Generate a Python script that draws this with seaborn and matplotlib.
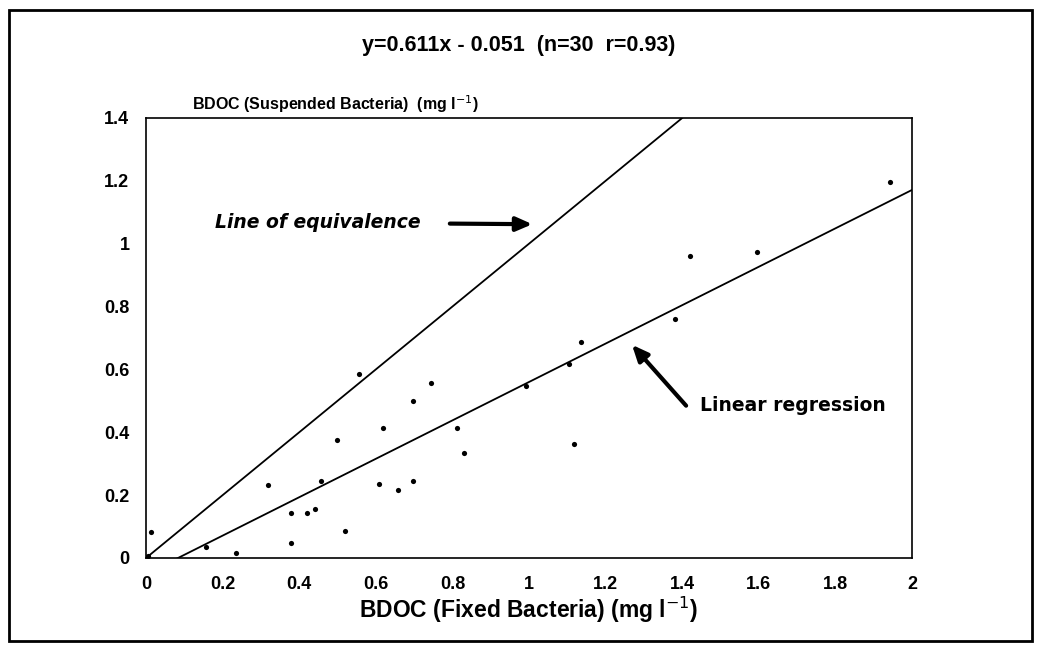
import numpy as np
import matplotlib.pyplot as plt
import seaborn as sns
from matplotlib.patches import Rectangle

# data
fixed_bdoc = [0.005, 0.012, 0.156, 0.236, 0.318, 0.379, 0.379, 0.419, 0.440, 0.458,
              0.499, 0.519, 0.556, 0.608, 0.618, 0.659, 0.696, 0.697, 0.744, 0.813,
              0.831, 0.992, 1.104, 1.117, 1.136, 1.382, 1.421, 1.595, 1.943]
susp_bdoc = [0.005, 0.084, 0.034, 0.017, 0.232, 0.144, 0.047, 0.144, 0.155, 0.244,
             0.377, 0.086, 0.585, 0.235, 0.414, 0.216, 0.498, 0.245, 0.556, 0.414,
             0.334, 0.548, 0.618, 0.363, 0.686, 0.762, 0.962, 0.972, 1.196]
slope, intercept = 0.611, -0.051
x_ticks = [0, 0.2, 0.4, 0.6, 0.8, 1, 1.2, 1.4, 1.6, 1.8, 2]
y_ticks = [0, 0.2, 0.4, 0.6, 0.8, 1, 1.2, 1.4]

sns.set_theme(style="white")
plt.rcParams['font.family'] = ['Liberation Sans', 'DejaVu Sans']
plt.rcParams['text.color'] = 'black'
plt.rcParams['axes.labelcolor'] = 'black'

fig = plt.figure(figsize=(10.38, 6.54), dpi=100)
ax = fig.add_axes([0.1407, 0.1468, 0.8786 - 0.1407, 0.8196 - 0.1468])

sns.scatterplot(x=fixed_bdoc, y=susp_bdoc, ax=ax, color="black", s=14,
                edgecolor="black", linewidth=0, zorder=3)

xx = np.array([0, 2])
sns.lineplot(x=xx, y=xx, ax=ax, color="black", linewidth=1.3)
sns.lineplot(x=xx, y=slope * xx + intercept, ax=ax, color="black", linewidth=1.3)

ax.set_xlim(0, 2)
ax.set_ylim(0, 1.4)
ax.set_xticks(x_ticks)
ax.set_xticklabels([f"{t:g}" for t in x_ticks])
ax.set_yticks(y_ticks)
ax.set_yticklabels([f"{t:g}" for t in y_ticks])
ax.tick_params(direction="in", length=6, width=1, colors="black",
               labelsize=13, pad=12)
ax.tick_params(axis="x", pad=13)
for lab in ax.get_xticklabels() + ax.get_yticklabels():
    lab.set_fontweight("bold")
for sp in ax.spines.values():
    sp.set_color("black")
    sp.set_linewidth(1.2)

ax.set_xlabel("BDOC (Fixed Bacteria) (mg l$^{-1}$)", fontsize=16.5,
              fontweight="bold", labelpad=1)
ax.set_ylabel("")
ax.text(0.12, 1.443, "BDOC (Suspended Bacteria)  (mg l$^{-1}$)", fontsize=11.5,
        fontweight="bold", ha="left", va="center")

fig.text(0.5, 0.93, "y=0.611x - 0.051  (n=30  r=0.93)", fontsize=15.5,
         fontweight="bold", ha="center", va="center")

ax.text(0.18, 1.067, "Line of equivalence", fontsize=13.5, fontweight="bold",
        fontstyle="italic", va="center", ha="left", color="black",
        family=["DejaVu Sans"])
ax.annotate("", xy=(1.016, 1.062), xytext=(0.786, 1.064),
            arrowprops=dict(arrowstyle="-|>,head_length=0.8,head_width=0.35",
                            color="black", lw=3))
ax.text(1.446, 0.484, "Linear regression", fontsize=13.5, fontweight="bold",
        va="center", ha="left", color="black", family=["DejaVu Sans"])
ax.annotate("", xy=(1.264, 0.685), xytext=(1.415, 0.478),
            arrowprops=dict(arrowstyle="-|>,head_length=0.8,head_width=0.35",
                            color="black", lw=3))

fig.patches.append(Rectangle((0.009, 0.02), 0.985, 0.965, transform=fig.transFigure,
                             fill=False, edgecolor="black", linewidth=2))

fig.savefig("out.png", dpi=100)
